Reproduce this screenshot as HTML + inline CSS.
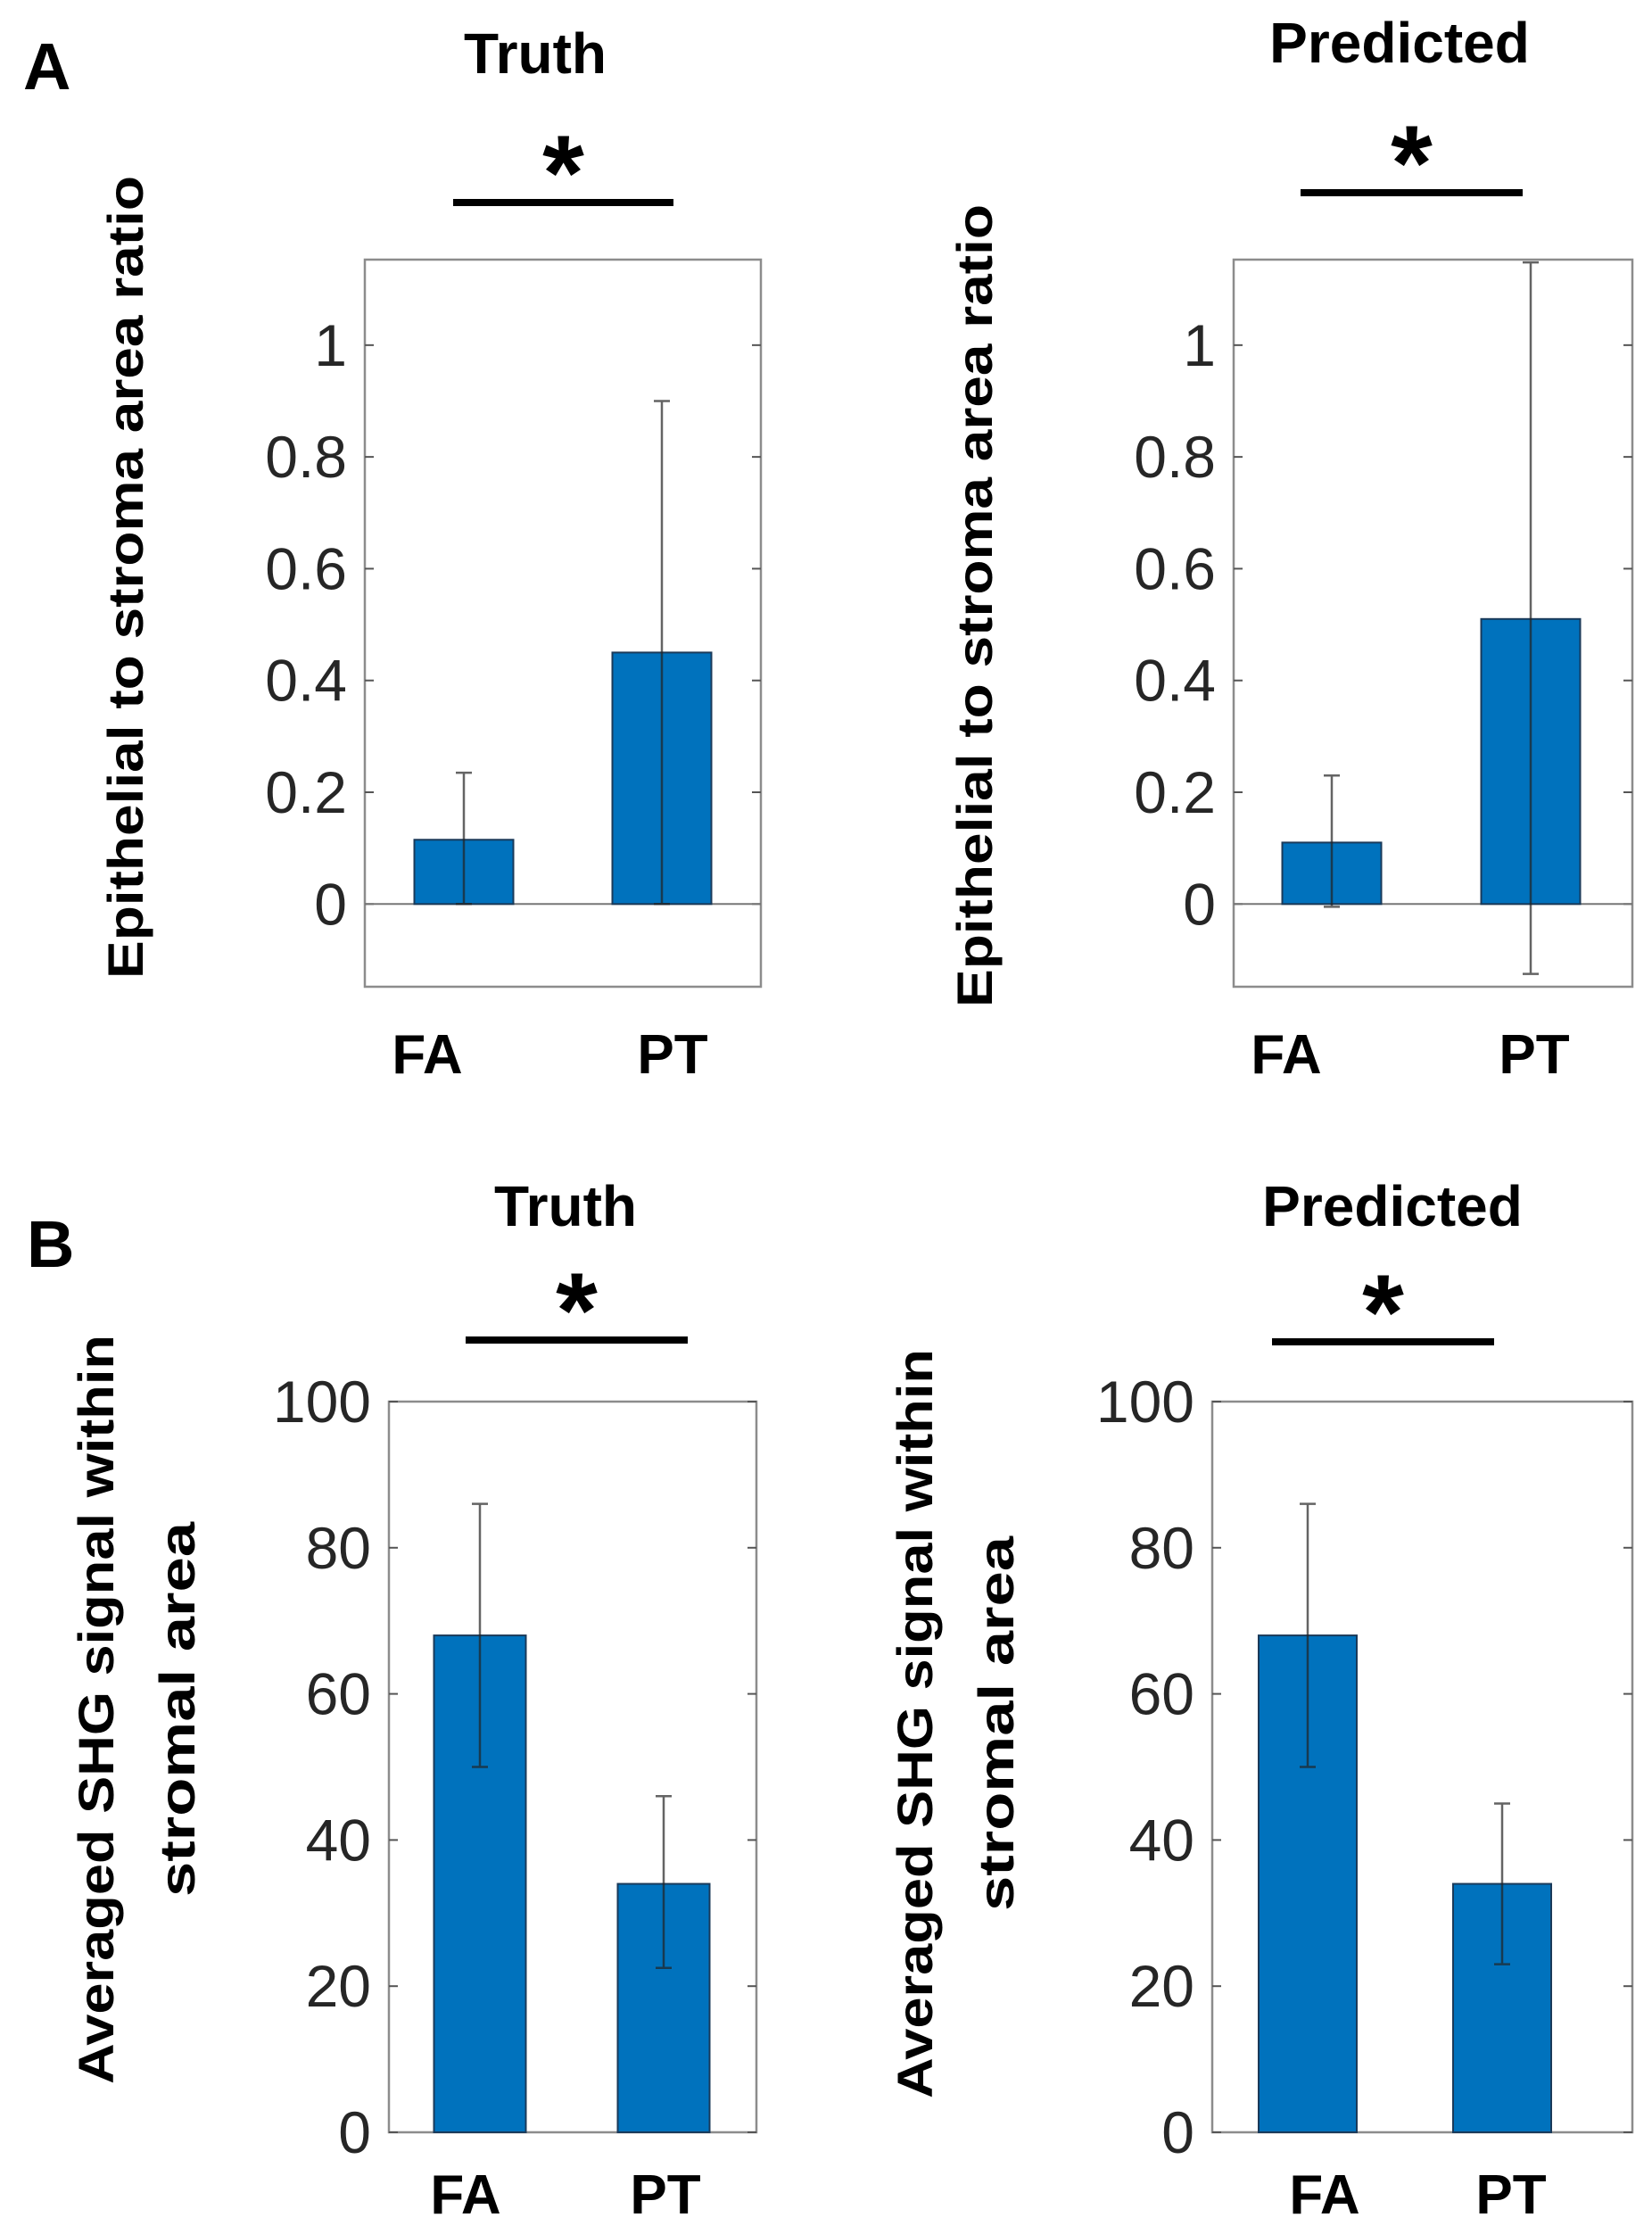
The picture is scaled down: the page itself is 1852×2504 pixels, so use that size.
<!DOCTYPE html>
<html><head><meta charset="utf-8"><style>
html,body{margin:0;padding:0;background:#fff}
svg{display:block}
text{font-family:"Liberation Sans",sans-serif}
</style></head>
<body>
<svg id="fig" width="1852" height="2504" viewBox="0 0 1852 2504" xmlns="http://www.w3.org/2000/svg">
<text x="26" y="100" font-size="74" font-weight="bold">A</text>
<text x="30" y="1420" font-size="74" font-weight="bold">B</text>
</svg>
<script>
const categories = ["FA", "PT"];
const ratioTruthValues = [0.115, 0.45];
const ratioTruthLow = [0.0, 0.0];
const ratioTruthHigh = [0.235, 0.90];
const ratioPredValues = [0.11, 0.51];
const ratioPredLow = [-0.005, -0.125];
const ratioPredHigh = [0.23, 1.148];
const ratioTicks = [0, 0.2, 0.4, 0.6, 0.8, 1];
const ratioTickLabels = ["0", "0.2", "0.4", "0.6", "0.8", "1"];
const shgTruthValues = [68, 34];
const shgTruthLow = [50, 22.5];
const shgTruthHigh = [86, 46];
const shgPredValues = [68, 34];
const shgPredLow = [50, 23];
const shgPredHigh = [86, 45];
const shgTicks = [0, 20, 40, 60, 80, 100];
const shgTickLabels = ["0", "20", "40", "60", "80", "100"];

const NS = "http://www.w3.org/2000/svg";
const svg = document.getElementById("fig");
function mk(tag, attrs, parent, txt) {
  const e = document.createElementNS(NS, tag);
  for (const k in attrs) e.setAttribute(k, attrs[k]);
  if (txt !== undefined) e.textContent = txt;
  (parent || svg).appendChild(e);
  return e;
}

function drawPanel(p) {
  const g = mk("g", {});
  
  
  const y = v => p.y0 + (v - p.ymin) / (p.ymax - p.ymin) * (p.y1 - p.y0);
  const x = i => p.cx[i];
  const box = mk("rect", {x: p.x0, y: p.y1, width: p.x1 - p.x0, height: p.y0 - p.y1, fill: "none", stroke: "#8c8c8c", "stroke-width": 2.5}, g);
  
  
  p.ticks.forEach((t, i) => {
    const ty = y(t);
    mk("line", {x1: p.x0, x2: p.x0 + 10, y1: ty, y2: ty, stroke: "#555", "stroke-width": 2}, g);
    mk("line", {x1: p.x1, x2: p.x1 - 10, y1: ty, y2: ty, stroke: "#555", "stroke-width": 2}, g);
    const tl = mk("text", {x: p.x0 - 20, y: ty + 23, "font-size": 66, "text-anchor": "end", fill: "#262626"}, g, p.tickLabels[i]);
    
    
  });
  if (p.ymin < 0) {
    mk("line", {x1: p.x0, x2: p.x1, y1: y(0), y2: y(0), stroke: "#777", "stroke-width": 2}, g);
  }
  p.values.forEach((v, i) => {
    const top = Math.min(y(v), y(0)), h = Math.abs(y(v) - y(0));
    const b = mk("rect", {x: x(i) - p.bw / 2, y: top, width: p.bw, height: h, fill: "#0072BD", stroke: "#1a3a5a", "stroke-width": 2}, g);
    
    
    const e = mk("path", {d: `M${x(i)},${y(p.low[i])}V${y(p.high[i])}M${x(i)-9},${y(p.low[i])}H${x(i)+9}M${x(i)-9},${y(p.high[i])}H${x(i)+9}`, stroke: "#222", "stroke-opacity": 0.7, "stroke-width": 2.5, fill: "none"}, g);
    
    
    const xl = mk("text", {x: p.lx[i], y: p.ly, "font-size": 62, "font-weight": "bold", "text-anchor": "middle"}, g, categories[i]);
    
    
  });
  const t = mk("text", {x: p.tx, y: p.ty, "font-size": 64, "font-weight": "bold", "text-anchor": "middle"}, g, p.title);
  
  
  const sl = mk("line", {x1: p.sx0, x2: p.sx1, y1: p.sy, y2: p.sy, stroke: "#000", "stroke-width": 8}, g);
  
  
  const st = mk("text", {x: (p.sx0 + p.sx1) / 2, y: p.sy + 8, "font-size": 120, "font-weight": "bold", "text-anchor": "middle"}, g, "*");
  
  
  p.ylab.forEach((l, i) => {
    const yl = mk("text", {x: 0, y: 0, "font-size": 56, "font-weight": "bold", "text-anchor": "middle",
      transform: `translate(${p.ylx[i]},${p.yly}) rotate(-90)`, textLength: p.ylw[i], lengthAdjust: "spacingAndGlyphs"}, g, l);
    
    
  });
}

drawPanel({name: "chart-a-truth", x0: 409, x1: 853, y0: 1106, y1: 291, ymin: -0.148, ymax: 1.153, cx: [520, 742], bw: 111,
  values: ratioTruthValues, low: ratioTruthLow, high: ratioTruthHigh, ticks: ratioTicks, tickLabels: ratioTickLabels,
  lx: [479, 754], ly: 1203, title: "Truth", tx: 600, ty: 82, sx0: 508, sx1: 755, sy: 227,
  ylab: ["Epithelial to stroma area ratio"], ylx: [160], yly: 647, ylw: [900]});

drawPanel({name: "chart-a-predicted", x0: 1383, x1: 1830, y0: 1106, y1: 291, ymin: -0.148, ymax: 1.153, cx: [1493, 1716], bw: 111,
  values: ratioPredValues, low: ratioPredLow, high: ratioPredHigh, ticks: ratioTicks, tickLabels: ratioTickLabels,
  lx: [1442, 1720], ly: 1203, title: "Predicted", tx: 1569, ty: 70, sx0: 1458, sx1: 1707, sy: 216,
  ylab: ["Epithelial to stroma area ratio"], ylx: [1112], yly: 679, ylw: [900]});

drawPanel({name: "chart-b-truth", x0: 436, x1: 848, y0: 2390, y1: 1571, ymin: 0, ymax: 100, cx: [538, 744], bw: 103,
  values: shgTruthValues, low: shgTruthLow, high: shgTruthHigh, ticks: shgTicks, tickLabels: shgTickLabels,
  lx: [522, 746], ly: 2481, title: "Truth", tx: 634, ty: 1374, sx0: 522, sx1: 771, sy: 1502,
  ylab: ["Averaged SHG signal within", "stromal area"], ylx: [127, 218], yly: 1916, ylw: [840, 420]});

drawPanel({name: "chart-b-predicted", x0: 1359, x1: 1830, y0: 2390, y1: 1571, ymin: 0, ymax: 100, cx: [1466, 1684], bw: 110,
  values: shgPredValues, low: shgPredLow, high: shgPredHigh, ticks: shgTicks, tickLabels: shgTickLabels,
  lx: [1485, 1694], ly: 2481, title: "Predicted", tx: 1561, ty: 1374, sx0: 1426, sx1: 1675, sy: 1504,
  ylab: ["Averaged SHG signal within", "stromal area"], ylx: [1045, 1136], yly: 1932, ylw: [840, 420]});
</script>
</body></html>
